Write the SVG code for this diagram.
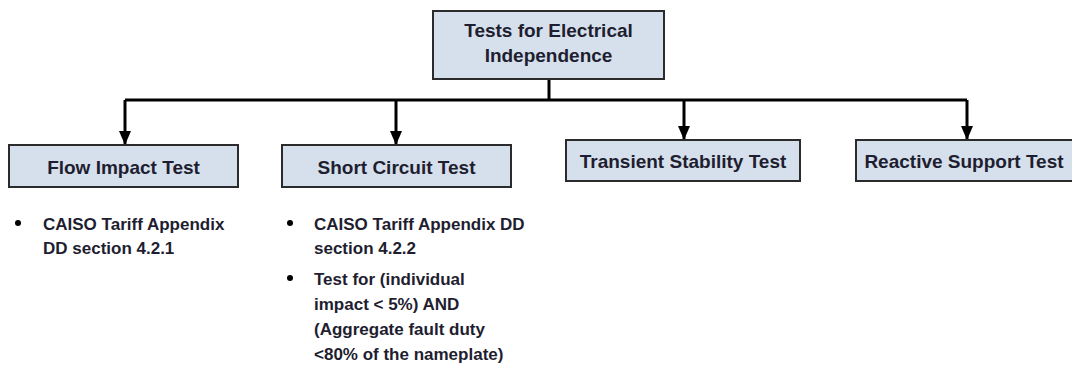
<svg xmlns="http://www.w3.org/2000/svg" width="1072" height="367" viewBox="0 0 1072 367">
<defs>
<style>
.box{fill:#d6e0ec;stroke:#2b2b2b;stroke-width:2}
.lbl{font-family:"Liberation Sans",Arial,sans-serif;font-weight:bold;font-size:19px;fill:#1e1e30;text-anchor:middle}
.txt{font-family:"Liberation Sans",Arial,sans-serif;font-weight:bold;font-size:17px;fill:#1e1e30}
.conn{fill:none;stroke:#000;stroke-width:3}
.dot{fill:#000}
</style>
<marker id="ah" viewBox="0 0 14 12" refX="13" refY="6" markerWidth="14" markerHeight="12" markerUnits="userSpaceOnUse" orient="auto">
<path d="M0,0 L14,6 L0,12 Z" fill="#000"/>
</marker>
</defs>
<rect width="1072" height="367" fill="#fff"/>
<g id="connectors">
<path class="conn" d="M549,79 V100"/>
<path class="conn" d="M125,100 H967"/>
<path class="conn" d="M125,100 V144" marker-end="url(#ah)"/>
<path class="conn" d="M396,100 V144" marker-end="url(#ah)"/>
<path class="conn" d="M684,100 V139" marker-end="url(#ah)"/>
<path class="conn" d="M967,100 V139" marker-end="url(#ah)"/>
</g>
<g id="root">
<rect class="box" x="433" y="11" width="231" height="68"/>
<text class="lbl" x="548.5" y="37">Tests for Electrical</text>
<text class="lbl" x="548.5" y="62">Independence</text>
</g>
<g id="flow">
<rect class="box" x="9" y="145" width="229" height="42"/>
<text class="lbl" x="123.5" y="174">Flow Impact Test</text>
</g>
<g id="short">
<rect class="box" x="282" y="145" width="229" height="42"/>
<text class="lbl" x="396.5" y="174">Short Circuit Test</text>
</g>
<g id="transient">
<rect class="box" x="566" y="140" width="234" height="41"/>
<text class="lbl" x="683" y="168">Transient Stability Test</text>
</g>
<g id="reactive">
<rect class="box" x="856" y="140" width="230" height="41"/>
<text class="lbl" x="964" y="168">Reactive Support Test</text>
</g>
<g id="flow-notes">
<circle class="dot" cx="18" cy="223" r="3"/>
<text class="txt" x="43" y="230">CAISO Tariff Appendix</text>
<text class="txt" x="43" y="254">DD section 4.2.1</text>
</g>
<g id="short-notes">
<circle class="dot" cx="290" cy="223" r="3"/>
<text class="txt" x="314" y="230">CAISO Tariff Appendix DD</text>
<text class="txt" x="314" y="254">section 4.2.2</text>
<circle class="dot" cx="290" cy="278" r="3"/>
<text class="txt" x="314" y="285">Test for (individual</text>
<text class="txt" x="314" y="310">impact &lt; 5%) AND</text>
<text class="txt" x="314" y="335">(Aggregate fault duty</text>
<text class="txt" x="314" y="360">&lt;80% of the nameplate)</text>
</g>
</svg>
